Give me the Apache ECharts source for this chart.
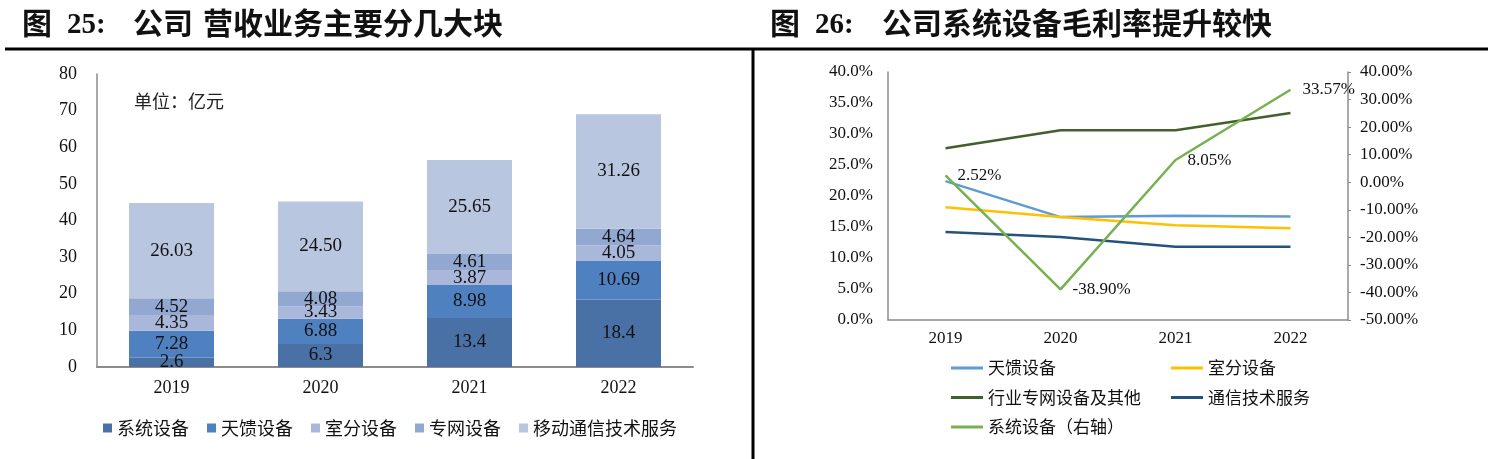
<!DOCTYPE html>
<html lang="zh">
<head>
    <meta charset="UTF-8">
    <title>公司营收与毛利率</title>
    <script src="https://cdn.jsdelivr.net/npm/echarts@6/dist/echarts.min.js"></script>
    <style>
        html, body { margin: 0; padding: 0; background: #fff; }
        #chart { width: 1488px; height: 459px; }
    </style>
</head>
<body>
    <div id="chart"></div>
    <script>
        // 图25 营收构成（亿元）
        var years = ['2019', '2020', '2021', '2022'];
        var revNames = ['系统设备', '天馈设备', '室分设备', '专网设备', '移动通信技术服务'];
        var revSystem = [2.6, 6.3, 13.4, 18.4];
        var revAntenna = [7.28, 6.88, 8.98, 10.69];
        var revIndoor = [4.35, 3.43, 3.87, 4.05];
        var revPrivate = [4.52, 4.08, 4.61, 4.64];
        var revService = [26.03, 24.50, 25.65, 31.26];
        var revTicks = [0, 80, 10];

        // 图26 毛利率（%）
        var gmNames = ['天馈设备', '室分设备', '行业专网设备及其他', '通信技术服务', '系统设备（右轴）'];
        var gmAntenna = [22.4, 16.6, 16.8, 16.7];
        var gmIndoor = [18.2, 16.6, 15.3, 14.8];
        var gmPrivate = [27.7, 30.6, 30.6, 33.4];
        var gmService = [14.2, 13.4, 11.8, 11.8];
        var gmSystem = [2.52, -38.90, 8.05, 33.57];
        var gmLeftTicks = [0, 40, 5];
        var gmRightTicks = [-50, 40, 10];

        var serif = '"Liberation Serif", "Noto Sans CJK SC", serif';
        var cjk = '"Noto Sans CJK SC", sans-serif';

        var revData = [revSystem, revAntenna, revIndoor, revPrivate, revService];
        var revColors = ['#4a71a5', '#4f80bf', '#a9b8da', '#93a8d0', '#b9c6e0'];
        var gmData = [gmAntenna, gmIndoor, gmPrivate, gmService, gmSystem];
        var gmColors = ['#5f9bd3', '#ffc000', '#41602c', '#24527f', '#76b150'];

        var series = [];
        revData.forEach(function (d, i) {
            series.push({
                name: revNames[i],
                type: 'bar',
                stack: 'rev',
                xAxisIndex: 0,
                yAxisIndex: 0,
                barWidth: 85,
                data: d,
                itemStyle: { color: revColors[i] },
                label: {
                    show: true,
                    position: 'inside',
                    color: '#111',
                    fontFamily: serif,
                    fontSize: 19,
                    formatter: function (p) { return p.value.toFixed(i === 0 ? 1 : 2); }
                }
            });
        });
        gmData.forEach(function (d, i) {
            var s = {
                name: gmNames[i],
                type: 'line',
                xAxisIndex: 1,
                yAxisIndex: i === 4 ? 2 : 1,
                data: d,
                showSymbol: false,
                symbol: 'none',
                lineStyle: { color: gmColors[i], width: 2.5 },
                itemStyle: { color: gmColors[i] }
            };
            if (i === 4) {
                s.label = {
                    show: true,
                    position: 'right',
                    distance: 12,
                    color: '#111',
                    fontFamily: serif,
                    fontSize: 17,
                    formatter: function (p) { return p.value.toFixed(2) + '%'; }
                };
                s.showSymbol = true;
                s.symbol = 'circle';
                s.symbolSize = 0.1;
            }
            series.push(s);
        });

        // 右图图例：名称与左图重复，颜色单独指定
        function gmLegend(idx) {
            return idx.map(function (i) {
                return { name: gmNames[i], itemStyle: { color: gmColors[i] } };
            });
        }

        function titleText(x, text, serifText) {
            return {
                type: 'text', left: x, top: serifText ? 11 : 8,
                style: serifText
                    ? { text: text, font: 'bold 29px ' + serif, fill: '#111' }
                    : { text: text, font: 'bold 30px ' + cjk, fill: '#111' }
            };
        }

        var chart = echarts.init(document.getElementById('chart'));
        chart.setOption({
            animation: false,
            backgroundColor: '#fff',
            graphic: [
                titleText(22, '图'),
                titleText(67, '25:', true),
                titleText(133, '公司'),
                titleText(203, '营收业务主要分几大块'),
                titleText(770, '图'),
                titleText(815, '26:', true),
                titleText(882, '公司系统设备毛利率提升较快'),
                { type: 'line', shape: { x1: 5, y1: 49, x2: 1488, y2: 49 }, style: { stroke: '#000', lineWidth: 3 } },
                { type: 'line', shape: { x1: 753, y1: 49, x2: 753, y2: 459 }, style: { stroke: '#000', lineWidth: 3 } },
                {
                    type: 'text', left: 134, top: 92,
                    style: { text: '单位：亿元', font: '18px ' + cjk, fill: '#222' }
                }
            ],
            legend: [
                {
                    left: 98, top: 414,
                    icon: 'rect', itemWidth: 9, itemHeight: 9, itemGap: 18,
                    data: revNames,
                    textStyle: { fontFamily: cjk, fontSize: 18, color: '#111' }
                },
                {
                    orient: 'vertical', left: 946, top: 353,
                    icon: 'rect', itemWidth: 32, itemHeight: 3, itemGap: 9.5,
                    data: gmLegend([0, 2, 4]),
                    textStyle: { fontFamily: cjk, fontSize: 17, color: '#111', lineHeight: 20 }
                },
                {
                    orient: 'vertical', left: 1166, top: 353,
                    icon: 'rect', itemWidth: 32, itemHeight: 3, itemGap: 9.5,
                    data: gmLegend([1, 3]),
                    textStyle: { fontFamily: cjk, fontSize: 17, color: '#111', lineHeight: 20 }
                }
            ],
            grid: [
                { left: 97, right: 795, top: 74, bottom: 92 },
                { left: 888, right: 140, top: 72, bottom: 139 }
            ],
            xAxis: [
                {
                    type: 'category', gridIndex: 0, data: years,
                    axisLine: { lineStyle: { color: '#8c8c8c', width: 2 } },
                    axisTick: { show: false },
                    axisLabel: { margin: 12, fontFamily: serif, fontSize: 18, color: '#111' }
                },
                {
                    type: 'category', gridIndex: 1, data: years,
                    axisLine: { lineStyle: { color: '#8c8c8c', width: 1.5 } },
                    axisTick: { show: false },
                    axisLabel: { margin: 10, fontFamily: serif, fontSize: 17, color: '#111' }
                }
            ],
            yAxis: [
                {
                    type: 'value', gridIndex: 0,
                    min: revTicks[0], max: revTicks[1], interval: revTicks[2],
                    axisLine: { show: true, lineStyle: { color: '#8c8c8c', width: 1.5 } },
                    axisTick: { show: false },
                    splitLine: { show: false },
                    axisLabel: { margin: 20, fontFamily: serif, fontSize: 18, color: '#111' }
                },
                {
                    type: 'value', gridIndex: 1,
                    min: gmLeftTicks[0], max: gmLeftTicks[1], interval: gmLeftTicks[2],
                    axisLine: { show: true, lineStyle: { color: '#8c8c8c', width: 1.5 } },
                    axisTick: { show: false },
                    splitLine: { show: false },
                    axisLabel: {
                        margin: 15, fontFamily: serif, fontSize: 17, color: '#111',
                        formatter: function (v) { return v.toFixed(1) + '%'; }
                    }
                },
                {
                    type: 'value', gridIndex: 1, position: 'right',
                    min: gmRightTicks[0], max: gmRightTicks[1], interval: gmRightTicks[2],
                    axisLine: { show: true, lineStyle: { color: '#8c8c8c', width: 1.5 } },
                    axisTick: { show: true, length: 3, lineStyle: { color: '#8c8c8c' } },
                    splitLine: { show: false },
                    axisLabel: {
                        margin: 12, fontFamily: serif, fontSize: 17, color: '#111',
                        formatter: function (v) { return v.toFixed(2) + '%'; }
                    }
                }
            ],
            series: series
        });
    </script>
</body>
</html>
